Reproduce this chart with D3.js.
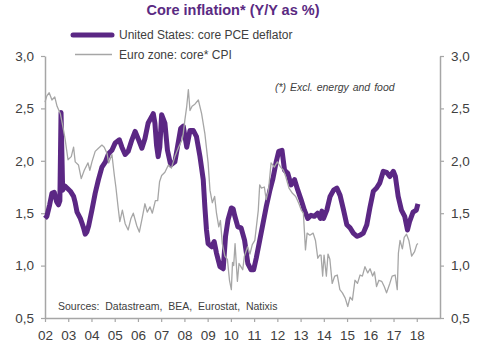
<!DOCTYPE html>
<html><head><meta charset="utf-8">
<script src="https://cdn.jsdelivr.net/npm/d3@7"></script>
<style>
html,body{margin:0;padding:0;background:#fff;}
svg{display:block;font-family:"Liberation Sans",Arial,sans-serif;}
</style></head>
<body>
<svg id="chart" width="484" height="350"></svg>
<script>
// ---- Data (decimal year, % y/y) ----
const usDates = [2002.00,2002.08,2002.20,2002.30,2002.40,2002.50,2002.58,2002.64,2002.69,2002.76,2002.85,2002.95,2003.09,2003.23,2003.30,2003.38,2003.52,2003.60,2003.66,2003.73,2003.80,2003.88,2004.02,2004.16,2004.30,2004.45,2004.60,2004.74,2004.88,2005.02,2005.20,2005.31,2005.45,2005.58,2005.74,2005.88,2006.03,2006.17,2006.30,2006.44,2006.59,2006.66,2006.73,2006.80,2006.87,2006.94,2007.02,2007.16,2007.27,2007.41,2007.59,2007.70,2007.84,2007.95,2008.10,2008.24,2008.38,2008.52,2008.67,2008.81,2008.88,2008.95,2009.02,2009.17,2009.28,2009.38,2009.53,2009.67,2009.77,2009.88,2010.02,2010.10,2010.16,2010.30,2010.44,2010.59,2010.73,2010.87,2010.98,2011.09,2011.24,2011.38,2011.52,2011.67,2011.81,2011.95,2012.06,2012.20,2012.31,2012.45,2012.59,2012.74,2012.88,2013.02,2013.16,2013.31,2013.45,2013.59,2013.73,2013.85,2013.92,2013.99,2014.13,2014.27,2014.42,2014.56,2014.70,2014.85,2014.99,2015.13,2015.27,2015.42,2015.56,2015.70,2015.85,2015.99,2016.13,2016.27,2016.41,2016.56,2016.70,2016.84,2016.99,2017.08,2017.20,2017.34,2017.48,2017.60,2017.69,2017.84,2017.98,2018.05];
const usValues = [1.45,1.47,1.58,1.69,1.70,1.61,1.58,1.62,2.46,1.72,1.76,1.74,1.71,1.66,1.60,1.51,1.45,1.40,1.36,1.30,1.32,1.38,1.53,1.69,1.82,1.94,1.99,2.07,2.10,2.17,2.20,2.13,2.06,2.09,2.20,2.28,2.20,2.12,2.21,2.36,2.42,2.45,2.36,2.15,2.04,2.13,2.44,2.36,2.10,1.96,1.99,2.13,2.31,2.33,2.13,2.29,2.29,2.23,2.04,1.82,1.56,1.34,1.21,1.18,1.23,1.12,0.99,0.97,1.28,1.44,1.55,1.54,1.48,1.37,1.36,1.24,1.02,0.96,0.96,1.07,1.24,1.40,1.56,1.71,1.83,1.99,2.09,2.10,1.91,1.88,1.77,1.82,1.72,1.63,1.53,1.45,1.48,1.47,1.50,1.45,1.52,1.45,1.53,1.66,1.72,1.74,1.67,1.53,1.39,1.36,1.31,1.28,1.29,1.31,1.39,1.56,1.71,1.74,1.79,1.90,1.89,1.85,1.90,1.85,1.66,1.53,1.47,1.34,1.42,1.51,1.53,1.59];

const euDates = [2002.00,2002.08,2002.18,2002.30,2002.42,2002.52,2002.66,2002.80,2002.87,2002.99,2003.13,2003.23,2003.30,2003.44,2003.56,2003.69,2003.85,2003.93,2004.02,2004.16,2004.30,2004.45,2004.55,2004.67,2004.74,2004.88,2004.99,2005.05,2005.15,2005.22,2005.33,2005.45,2005.58,2005.70,2005.80,2005.95,2006.06,2006.18,2006.30,2006.40,2006.52,2006.62,2006.75,2006.85,2006.93,2007.02,2007.16,2007.31,2007.44,2007.59,2007.75,2007.90,2007.95,2008.02,2008.10,2008.17,2008.24,2008.33,2008.45,2008.60,2008.74,2008.88,2009.02,2009.10,2009.20,2009.30,2009.38,2009.48,2009.55,2009.63,2009.74,2009.85,2009.94,2010.02,2010.07,2010.12,2010.18,2010.28,2010.35,2010.43,2010.51,2010.58,2010.72,2010.82,2010.92,2011.03,2011.18,2011.24,2011.31,2011.44,2011.52,2011.62,2011.73,2011.87,2012.00,2012.14,2012.26,2012.36,2012.50,2012.65,2012.79,2012.93,2013.03,2013.12,2013.21,2013.28,2013.40,2013.54,2013.64,2013.74,2013.82,2013.88,2013.95,2014.01,2014.11,2014.18,2014.26,2014.36,2014.47,2014.58,2014.69,2014.80,2014.92,2015.03,2015.13,2015.23,2015.34,2015.45,2015.56,2015.66,2015.77,2015.89,2015.99,2016.10,2016.18,2016.27,2016.37,2016.49,2016.60,2016.70,2016.84,2016.94,2017.07,2017.16,2017.21,2017.28,2017.38,2017.46,2017.56,2017.66,2017.78,2017.90,2018.00,2018.05];
const euValues = [2.56,2.62,2.65,2.58,2.61,2.52,2.45,2.29,2.20,2.01,2.04,2.13,1.99,1.96,1.83,1.91,1.98,1.91,1.99,2.09,2.12,2.15,2.13,2.07,1.98,2.06,1.85,1.75,1.55,1.42,1.53,1.40,1.34,1.45,1.50,1.38,1.32,1.45,1.59,1.51,1.56,1.50,1.62,1.62,1.80,1.86,1.89,1.96,1.93,2.04,2.13,2.20,2.26,2.39,2.52,2.68,2.48,2.52,2.54,2.58,2.45,2.26,1.98,1.72,1.60,1.66,1.50,1.37,1.43,1.21,1.09,1.06,0.86,0.77,1.03,1.00,1.21,0.85,1.02,0.99,0.96,1.09,1.18,1.11,1.20,1.24,1.53,1.77,1.74,1.75,1.63,1.72,1.98,1.94,1.99,1.94,1.91,1.85,1.74,1.69,1.66,1.59,1.53,1.50,1.15,1.31,1.29,1.31,1.24,1.07,1.10,1.10,0.90,1.10,0.90,1.11,1.06,0.83,0.90,0.91,0.77,0.74,0.69,0.61,0.70,0.67,0.86,0.83,0.91,0.90,0.99,0.93,0.97,0.90,0.94,0.80,0.86,0.85,0.80,0.74,0.83,0.90,0.91,0.77,1.12,1.24,1.16,1.27,1.30,1.24,1.09,1.13,1.20,1.21];

const yTicks = [0.5,1.0,1.5,2.0,2.5,3.0];
const xTicks = [2002,2003,2004,2005,2006,2007,2008,2009,2010,2011,2012,2013,2014,2015,2016,2017,2018];
const seriesNames = ["United States: core PCE deflator","Euro zone: core* CPI"];
const titleText = "Core inflation* (Y/Y as %)";
const noteText = "(*) Excl. energy and food";
const sourceText = "Sources:  Datastream,  BEA,  Eurostat,  Natixis";

// ---- Drawing ----
const purple = "#5b2784", grey = "#a6a6a6", axisCol = "#a6a6a6", txt = "#404040";
const svg = d3.select("#chart");
const x = d3.scaleLinear().domain([2002, 2019]).range([45, 440]);
const y = d3.scaleLinear().domain([0.5, 3.0]).range([318, 56]);
const fmt = d => d.toFixed(1).replace(".", ",");

function styleAxis(g){
  g.select(".domain").attr("stroke", axisCol).attr("stroke-width", 1.5);
  g.selectAll(".tick line").attr("stroke", axisCol).attr("stroke-width", 1.2);
  g.selectAll(".tick text").attr("fill", txt).style("font-size", "13.5px").style("font-family", '"Liberation Sans",Arial,sans-serif');
}
const gl = svg.append("g").attr("transform", "translate(45,0)")
  .call(d3.axisLeft(y).tickValues(yTicks).tickFormat(fmt).tickSize(4).tickSizeOuter(0).tickPadding(7));
styleAxis(gl);
const gr = svg.append("g").attr("transform", "translate(440,0)")
  .call(d3.axisRight(y).tickValues(yTicks).tickFormat(fmt).tickSize(4).tickSizeOuter(0).tickPadding(7));
styleAxis(gr);
const gb = svg.append("g").attr("transform", "translate(0,318)")
  .call(d3.axisBottom(x).tickValues(xTicks).tickFormat(d => String(d).slice(2)).tickSize(4).tickSizeOuter(0).tickPadding(8));
styleAxis(gb);

const line = d3.line().x(d => x(d[0])).y(d => y(d[1]));
const us = usDates.map((d, i) => [d, usValues[i]]);
const eu = euDates.map((d, i) => [d, euValues[i]]);
svg.append("path").datum(us).attr("d", line).attr("fill", "none")
  .attr("stroke", purple).attr("stroke-width", 5).attr("stroke-linejoin", "round");
svg.append("path").datum(eu).attr("d", line).attr("fill", "none")
  .attr("stroke", grey).attr("stroke-width", 1.3).attr("stroke-linejoin", "round");

// Title
svg.append("text").attr("x", 233).attr("y", 15).attr("text-anchor", "middle")
  .attr("fill", "#5a2a82").style("font-weight", "bold").style("font-size", "14.5px").text(titleText);

// Legend
const leg = svg.append("g");
leg.append("line").attr("x1", 73).attr("x2", 112).attr("y1", 35).attr("y2", 35)
  .attr("stroke", purple).attr("stroke-width", 5).attr("stroke-linecap", "round");
leg.append("text").attr("x", 119).attr("y", 39).attr("fill", txt).style("font-size", "12px").text(seriesNames[0]);
leg.append("line").attr("x1", 75).attr("x2", 112).attr("y1", 54.5).attr("y2", 54.5)
  .attr("stroke", grey).attr("stroke-width", 1.3);
leg.append("text").attr("x", 119).attr("y", 59).attr("fill", txt).style("font-size", "12px").text(seriesNames[1]);

// Note
svg.append("text").attr("x", 275).attr("y", 91).attr("fill", txt).style("font-style", "italic")
  .style("font-size", "10.5px").style("word-spacing", "1px").text(noteText);
// Sources
svg.append("text").attr("x", 58).attr("y", 310).attr("fill", txt).style("font-size", "10.5px")
  .style("white-space", "pre").attr("xml:space", "preserve").text(sourceText);
</script>
</body></html>
